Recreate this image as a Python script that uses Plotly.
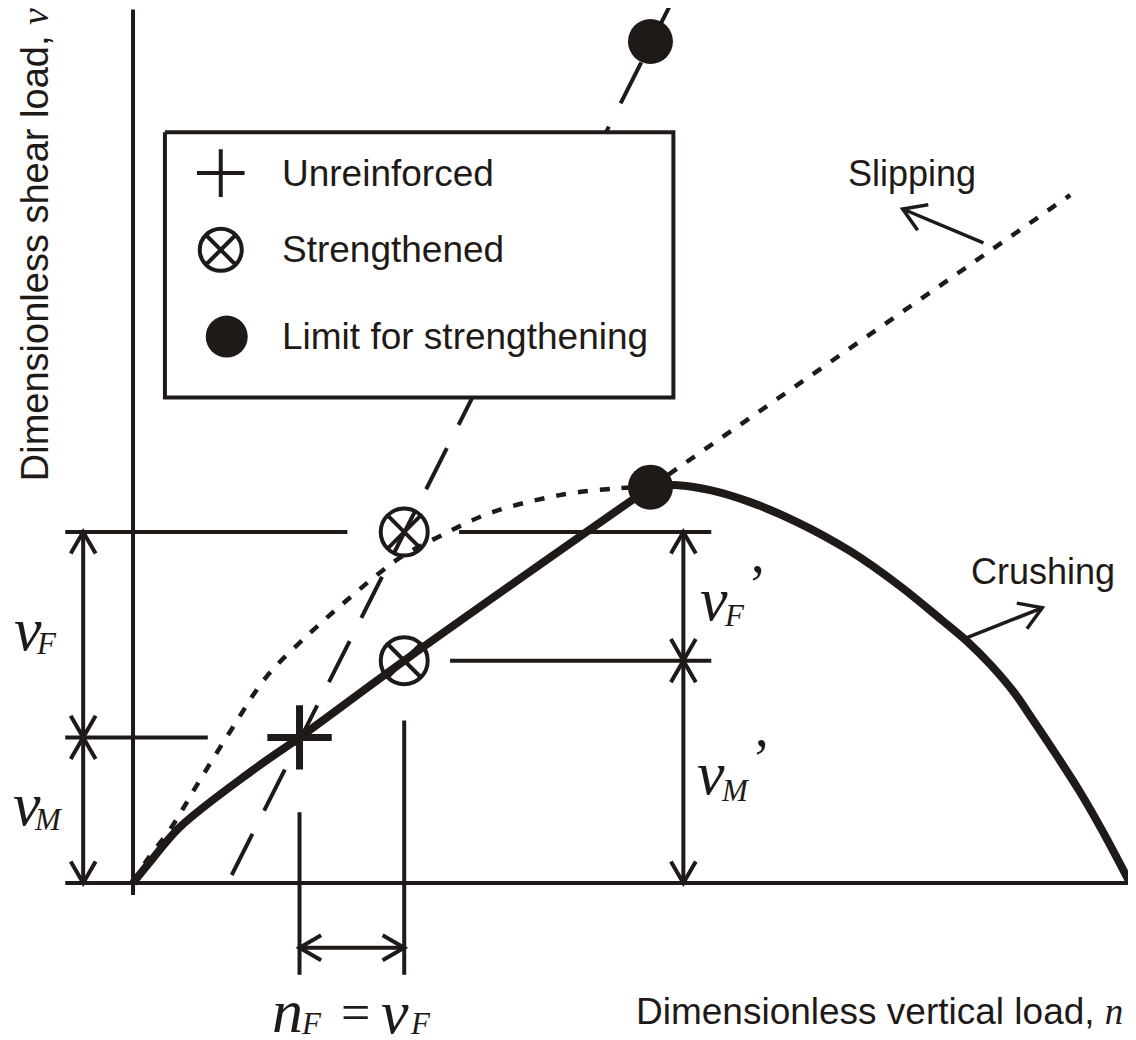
import math
import plotly.graph_objects as go

INK = "#1f1a17"
SANS = "Liberation Sans, Arial, sans-serif"
SERIF = "Liberation Serif, Times New Roman, serif"

# dimensionless vertical load n / shear load v (schematic units)
# strengthened envelope: origin -> unreinforced point -> limit (rising part)
rise_n = [0, 0.17, 0.47, 1.20, 1.67, 2.72, 5.19]
rise_v = [0, 0.21, 0.56, 1.13, 1.46, 2.23, 3.97]
# crushing part of the envelope
crush_n = [5.19, 5.46, 5.79, 6.19, 6.66, 7.19, 7.69, 8.12, 8.37, 8.60, 8.83, 9.03, 9.27, 9.50, 9.73, 10.0]
crush_v = [3.97, 3.99, 3.94, 3.82, 3.62, 3.33, 2.98, 2.63, 2.42, 2.19, 1.92, 1.63, 1.27, 0.91, 0.51, 0]

# slipping curve (dotted): curved part, then straight beyond the limit
slip_n = [0, 0.14, 0.38, 0.67, 1.00, 1.34, 1.79, 2.15, 2.51, 2.72, 3.10, 3.58, 4.28, 4.88, 5.19]
slip_v = [0, 0.23, 0.55, 1.03, 1.56, 2.07, 2.52, 2.84, 3.14, 3.29, 3.49, 3.71, 3.89, 3.96, 3.97]
slip2_n = [5.19, 9.40]
slip2_v = [3.97, 6.90]

# limit for strengthening line (dashed)
limline_n = [0.99, 5.39]
limline_v = [0.08, 8.81]

unreinf_n = [1.67]
unreinf_v = [1.46]
strength_n = [2.72, 2.72]
strength_v = [2.23, 3.52]
limit_n = [5.19, 5.19]
limit_v = [3.97, 8.44]

legend_labels = ["Unreinforced", "Strengthened", "Limit for strengthening"]

fig = go.Figure()


def seg(xs, ys, width=4, dash=None, shape="linear"):
    fig.add_trace(go.Scatter(x=xs, y=ys, mode="lines", hoverinfo="skip",
                             line=dict(color=INK, width=width, dash=dash, shape=shape)))


def head(tip, frm, width=4, L=0.25, ang=30):
    dx, dy = tip[0] - frm[0], tip[1] - frm[1]
    d = math.hypot(dx, dy)
    bx, by = -dx / d, -dy / d
    pts = []
    for s in (1, -1):
        a = math.radians(ang) * s
        pts.append((tip[0] + L * (bx * math.cos(a) - by * math.sin(a)),
                    tip[1] + L * (bx * math.sin(a) + by * math.cos(a))))
    seg([pts[0][0], tip[0], pts[1][0]], [pts[0][1], tip[1], pts[1][1]], width)


def dim(a, b, width=4):
    seg([a[0], b[0]], [a[1], b[1]], width)
    head(a, b, width)
    head(b, a, width)


# axes
seg([0, 0], [-0.12, 8.76])
seg([-0.68, 10.02], [0, 0])

# extension lines
vF_top = strength_v[1]
vM = unreinf_v[0]
vM2 = strength_v[0]
seg([-0.68, 2.15], [vF_top, vF_top])
seg([3.27, 5.80], [vF_top, vF_top])
seg([-0.68, 0.75], [vM, vM])
seg([3.18, 5.80], [vM2, vM2])
seg([unreinf_n[0]] * 2, [0.71, -0.92])
seg([strength_n[0]] * 2, [1.63, -0.92])

# dimension arrows
dim((-0.50, 0), (-0.50, vM))
dim((-0.50, vM), (-0.50, vF_top))
dim((5.52, 0), (5.52, vM2))
dim((5.52, vM2), (5.52, vF_top))
dim((unreinf_n[0], -0.65), (strength_n[0], -0.65))

# slipping curve and limit line
seg(slip_n, slip_v, width=4.5, dash="10px,12px", shape="spline")
seg(slip2_n, slip2_v, width=4.5, dash="10px,12px")
seg(limline_n, limline_v, width=4, dash="46px,26px")

# legend box
fig.add_trace(go.Scatter(x=[0.32, 5.42, 5.42, 0.32, 0.32], y=[7.53, 7.53, 4.87, 4.87, 7.53],
                         mode="lines", fill="toself", fillcolor="white", hoverinfo="skip",
                         line=dict(color=INK, width=4)))

# envelope
seg(rise_n, rise_v, width=8, shape="spline")
seg(crush_n, crush_v, width=8, shape="spline")

# direction arrows
seg([8.53, 7.72], [6.42, 6.76], width=3.5)
head((7.72, 6.76), (8.53, 6.42), width=3.5, L=0.26, ang=32)
seg([8.34, 9.12], [2.45, 2.76], width=3.5)
head((9.12, 2.76), (8.34, 2.45), width=3.5, L=0.26, ang=32)

# points
fig.add_trace(go.Scatter(x=unreinf_n, y=unreinf_v, mode="markers", hoverinfo="skip",
                         marker=dict(symbol="cross-thin", size=46, line=dict(color=INK, width=7))))
fig.add_trace(go.Scatter(x=strength_n, y=strength_v, mode="markers", hoverinfo="skip",
                         marker=dict(symbol="circle-x-open", size=47, color=INK, line=dict(color=INK, width=4))))
fig.add_trace(go.Scatter(x=limit_n, y=limit_v, mode="markers", hoverinfo="skip",
                         marker=dict(symbol="circle", size=45, color=INK)))

# legend symbols
leg_n = [0.88, 0.88, 0.94]
leg_v = [7.12, 6.35, 5.48]
fig.add_trace(go.Scatter(x=leg_n[:1], y=leg_v[:1], mode="markers", hoverinfo="skip",
                         marker=dict(symbol="cross-thin", size=34, line=dict(color=INK, width=4))))
fig.add_trace(go.Scatter(x=leg_n[1:2], y=leg_v[1:2], mode="markers", hoverinfo="skip",
                         marker=dict(symbol="circle-x-open", size=42, color=INK, line=dict(color=INK, width=4))))
fig.add_trace(go.Scatter(x=leg_n[2:], y=leg_v[2:], mode="markers", hoverinfo="skip",
                         marker=dict(symbol="circle", size=42, color=INK)))

ann = []


def txt(x, y, s, size=37, family=SANS, xa="center", ya="middle", angle=0):
    ann.append(dict(x=x, y=y, text=s, showarrow=False, xanchor=xa, yanchor=ya, textangle=angle,
                    font=dict(family=family, size=size, color=INK)))


for lab, vv in zip(legend_labels, leg_v):
    txt(1.47, vv, lab, xa="left")

txt(7.81, 7.12, "Slipping", size=36)
txt(9.13, 3.12, "Crushing", size=36)

txt(9.95, -1.29, "Dimensionless vertical load, <span style='font-family:Liberation Serif'><i>n</i></span>", xa="right")
txt(-0.98, 6.40, "Dimensionless shear load, <span style='font-family:Liberation Serif'><i>v</i></span>",
    size=38, angle=-90)


# math labels: big letter, subscript, prime
def sym(x, y, letter, sub, sx, sy, prime=None):
    txt(x, y, "<i>%s</i>" % letter, size=62, family=SERIF)
    txt(sx, sy, "<i>%s</i>" % sub, size=31, family=SERIF)
    if prime:
        txt(prime[0], prime[1], "\u2019", size=56, family=SERIF)


sym(-1.05, 2.55, "v", "F", -0.87, 2.40)
sym(-1.06, 0.79, "v", "M", -0.85, 0.64)
sym(5.83, 2.85, "v", "F", 6.03, 2.68, prime=(6.26, 2.99))
sym(5.80, 1.10, "v", "M", 6.04, 0.93, prime=(6.30, 1.24))
sym(1.55, -1.28, "n", "F", 1.79, -1.41)
txt(2.23, -1.30, "=", size=52, family=SERIF)
sym(2.63, -1.29, "v", "F", 2.88, -1.41)

# the page body sits 8px in from the window corner, so the figure is 8px smaller
fig.update_layout(
    width=1128, height=1032, margin=dict(l=0, r=0, t=0, b=0),
    paper_bgcolor="white", plot_bgcolor="white", showlegend=False,
    xaxis=dict(range=[-1.254, 10.060], visible=False),
    yaxis=dict(range=[-1.575, 8.776], visible=False),
    annotations=ann,
)

fig.write_html("out.html")
